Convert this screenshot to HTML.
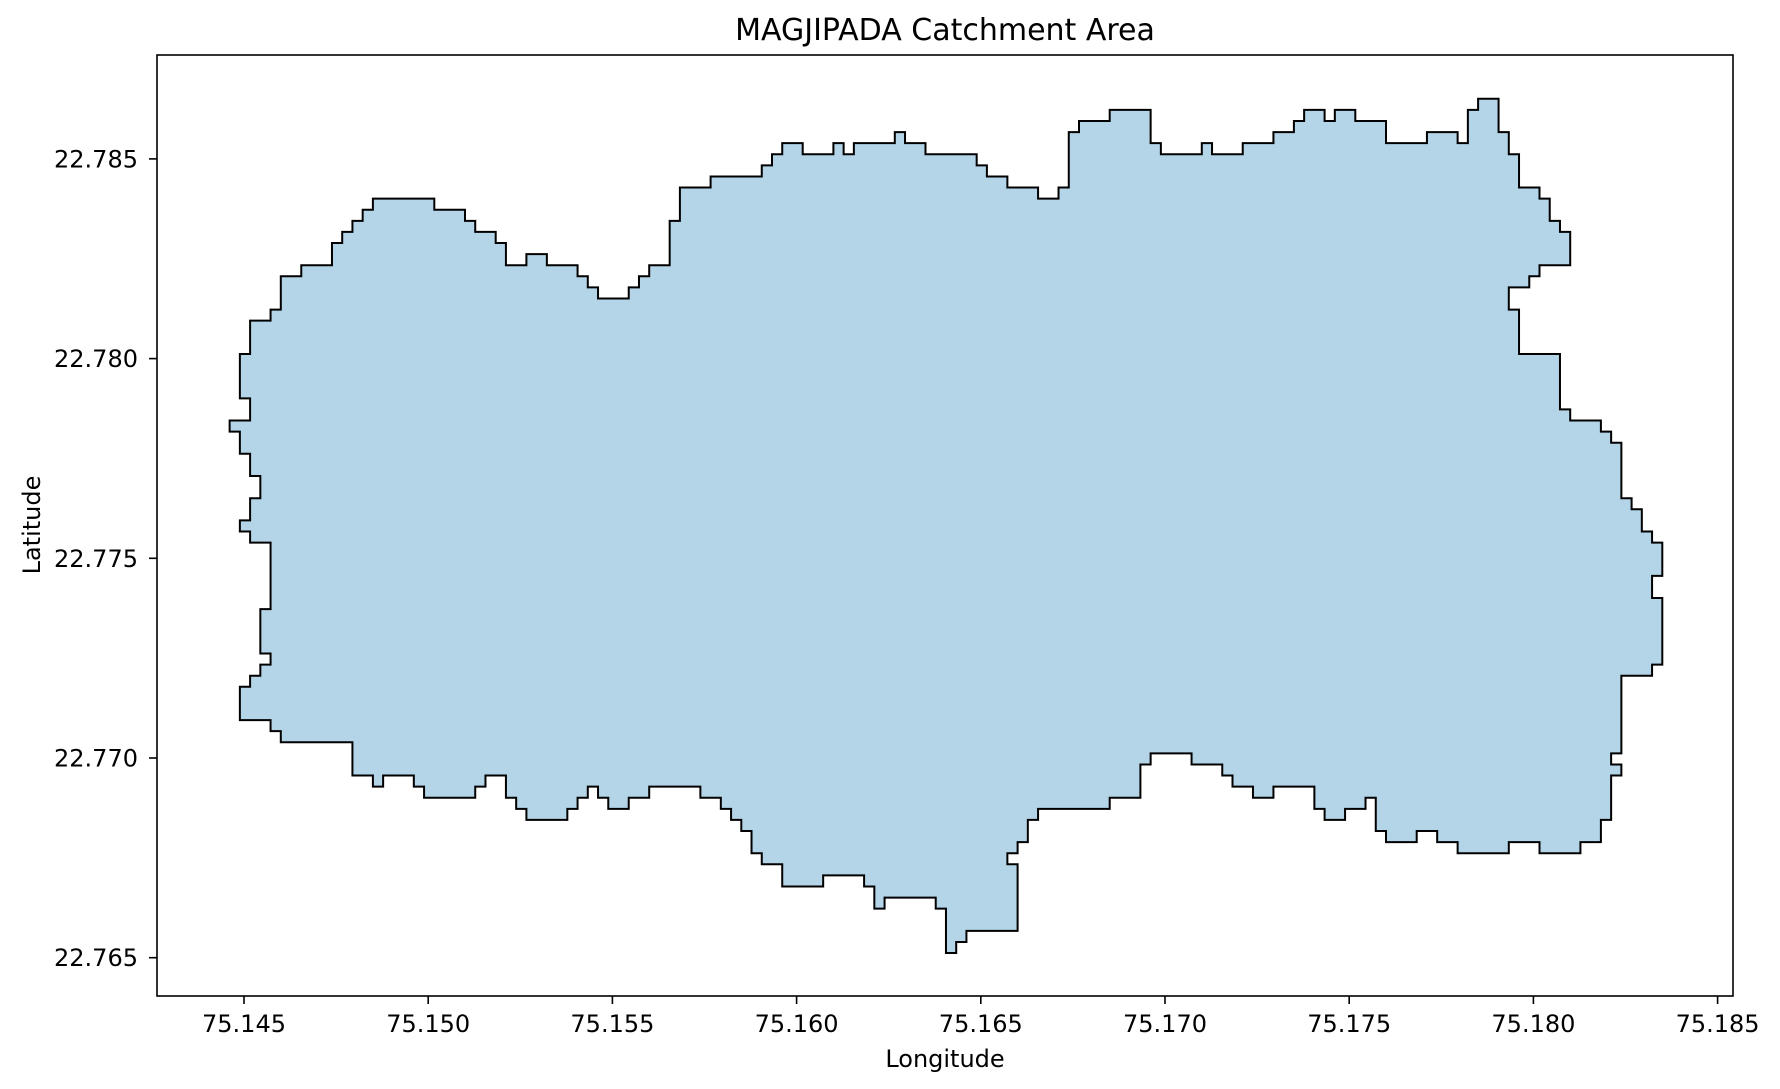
<!DOCTYPE html>
<html><head><meta charset="utf-8"><title>MAGJIPADA Catchment Area</title>
<style>
html,body{margin:0;padding:0;background:#fff;}
svg{display:block;}
text{font-family:"DejaVu Sans","Liberation Sans",sans-serif;fill:#000;}
</style></head>
<body>
<svg id="chart" width="1780" height="1089" viewBox="0 0 1780 1089" xmlns="http://www.w3.org/2000/svg">
<rect x="0" y="0" width="1780" height="1089" fill="#fff"/>
<text x="945" y="40" font-size="30" text-anchor="middle">MAGJIPADA Catchment Area</text>
<g id="plot"></g>
<text x="945" y="1067" font-size="24" text-anchor="middle">Longitude</text>
<text x="0" y="0" font-size="24" text-anchor="middle" transform="translate(40,525) rotate(-90)">Latitude</text>
</svg>
<script>
// Axis data
const xTicks = [75.145, 75.150, 75.155, 75.160, 75.165, 75.170, 75.175, 75.180, 75.185];
const xTickLabels = ["75.145","75.150","75.155","75.160","75.165","75.170","75.175","75.180","75.185"];
const yTicks = [22.765, 22.770, 22.775, 22.780, 22.785];
const yTickLabels = ["22.765","22.770","22.775","22.780","22.785"];
// Boundary origin (north-west raster corner) and cell size (1 arc-second)
const originLon = 75.14461;
const originLat = 22.786505;
const arcsec = 1/3600;
// Boundary vertices as arc-second offsets east / south of origin
const lonArcsec = [0,0,2,2,1,1,2,2,4,4,5,5,7,7,10,10,11,11,12,12,13,13,14,14,20,20,23,23,24,24,26,26,27,27,29,29,31,31,34,34,35,35,36,36,39,39,40,40,41,41,43,43,44,44,47,47,52,52,53,53,54,54,56,56,59,59,60,60,61,61,65,65,66,66,68,68,73,73,74,74,76,76,79,79,81,81,82,82,83,83,86,86,90,90,91,91,95,95,96,96,99,99,102,102,104,104,105,105,107,107,108,108,110,110,113,113,117,117,120,120,121,121,122,122,124,124,125,125,126,126,128,128,129,129,130,130,131,131,128,128,127,127,125,125,126,126,130,130,131,131,134,134,135,135,136,136,137,137,138,138,139,139,140,140,139,139,140,140,139,139,136,136,135,135,136,136,135,135,134,134,132,132,128,128,125,125,120,120,118,118,116,116,113,113,112,112,111,111,109,109,107,107,106,106,102,102,100,100,98,98,97,97,94,94,90,90,89,89,86,86,79,79,78,78,77,77,76,76,77,77,72,72,71,71,70,70,69,69,64,64,63,63,62,62,58,58,54,54,52,52,51,51,50,50,49,49,48,48,46,46,41,41,39,39,37,37,36,36,35,35,34,34,33,33,29,29,28,28,27,27,25,25,24,24,19,19,18,18,15,15,14,14,12,12,5,5,4,4,1,1,2,2,3,3,4,4,3,3,4,4,2,2,1,1,2,2,3,3,2,2,1,1];
const latArcsec = [30,29,29,27,27,23,23,20,20,19,19,16,16,15,15,13,13,12,12,11,11,10,10,9,9,10,10,11,11,12,12,13,13,15,15,14,14,15,15,16,16,17,17,18,18,17,17,16,16,15,15,11,11,8,8,7,7,6,6,5,5,4,4,5,5,4,4,5,5,4,4,3,3,4,4,5,5,6,6,7,7,8,8,9,9,8,8,3,3,2,2,1,1,4,4,5,5,4,4,5,5,4,4,3,3,2,2,1,1,2,2,1,1,2,2,4,4,3,3,4,4,1,1,0,0,3,3,5,5,8,8,9,9,11,11,12,12,15,15,16,16,17,17,19,19,23,23,28,28,29,29,30,30,31,31,36,36,37,37,39,39,40,40,43,43,45,45,51,51,52,52,59,59,60,60,61,61,65,65,67,67,68,68,67,67,68,68,67,67,66,66,67,67,66,66,63,63,64,64,65,65,64,64,62,62,63,63,62,62,61,61,60,60,59,59,60,60,63,63,64,64,65,65,67,67,68,68,69,69,75,75,76,76,77,77,73,73,72,72,73,73,71,71,70,70,71,71,69,69,68,68,66,66,65,65,64,64,63,63,62,62,63,63,64,64,63,63,62,62,63,63,64,64,65,65,64,64,63,63,61,61,62,62,63,63,62,62,61,61,62,62,61,61,58,58,57,57,56,56,53,53,52,52,51,51,50,50,46,46,40,40,39,39,38,38,36,36,34,34,32,32,30];

const NS = "http://www.w3.org/2000/svg";
const frame = {left:157, right:1733, top:55, bottom:996};
const xDomain = [75.145 - 87/36840, 75.145 + 1489/36840];
const yDomain = [22.765 - 38.3/39940, 22.785 + 103.9/39940];
function xScale(v){ return frame.left + (v - xDomain[0]) / (xDomain[1]-xDomain[0]) * (frame.right-frame.left); }
function yScale(v){ return frame.bottom - (v - yDomain[0]) / (yDomain[1]-yDomain[0]) * (frame.bottom-frame.top); }

const plot = document.getElementById('plot');

// catchment polygon
let pts = [];
for (let k = 0; k < lonArcsec.length; k++) {
  const lon = originLon + lonArcsec[k]*arcsec;
  const lat = originLat - latArcsec[k]*arcsec;
  pts.push(xScale(lon).toFixed(2) + ',' + yScale(lat).toFixed(2));
}
const poly = document.createElementNS(NS,'polygon');


poly.setAttribute('points', pts.join(' '));
poly.setAttribute('fill', '#b4d5e8');
poly.setAttribute('stroke', '#000');
poly.setAttribute('stroke-width', '2');
poly.setAttribute('stroke-linejoin', 'miter');
plot.appendChild(poly);

// frame
const fr = document.createElementNS(NS,'rect');


fr.setAttribute('x', frame.left); fr.setAttribute('y', frame.top);
fr.setAttribute('width', frame.right-frame.left); fr.setAttribute('height', frame.bottom-frame.top);
fr.setAttribute('fill', 'none'); fr.setAttribute('stroke', '#000'); fr.setAttribute('stroke-width', '1.6');
plot.appendChild(fr);

// x ticks
xTicks.forEach((t, i) => {
  const x = xScale(t);
  const ln = document.createElementNS(NS,'line');
  
  
  ln.setAttribute('x1', x); ln.setAttribute('x2', x);
  ln.setAttribute('y1', frame.bottom); ln.setAttribute('y2', frame.bottom + 8);
  ln.setAttribute('stroke', '#000'); ln.setAttribute('stroke-width', '1.6');
  plot.appendChild(ln);
  const tx = document.createElementNS(NS,'text');
  
  
  tx.setAttribute('x', x); tx.setAttribute('y', frame.bottom + 36);
  tx.setAttribute('font-size', '24'); tx.setAttribute('text-anchor', 'middle');
  tx.textContent = xTickLabels[i];
  plot.appendChild(tx);
});
// y ticks
yTicks.forEach((t, i) => {
  const y = yScale(t);
  const ln = document.createElementNS(NS,'line');
  
  
  ln.setAttribute('x1', frame.left - 8); ln.setAttribute('x2', frame.left);
  ln.setAttribute('y1', y); ln.setAttribute('y2', y);
  ln.setAttribute('stroke', '#000'); ln.setAttribute('stroke-width', '1.6');
  plot.appendChild(ln);
  const tx = document.createElementNS(NS,'text');
  
  
  tx.setAttribute('x', frame.left - 19); tx.setAttribute('y', y + 8.5);
  tx.setAttribute('font-size', '24'); tx.setAttribute('text-anchor', 'end');
  tx.textContent = yTickLabels[i];
  plot.appendChild(tx);
});
</script>
</body></html>
